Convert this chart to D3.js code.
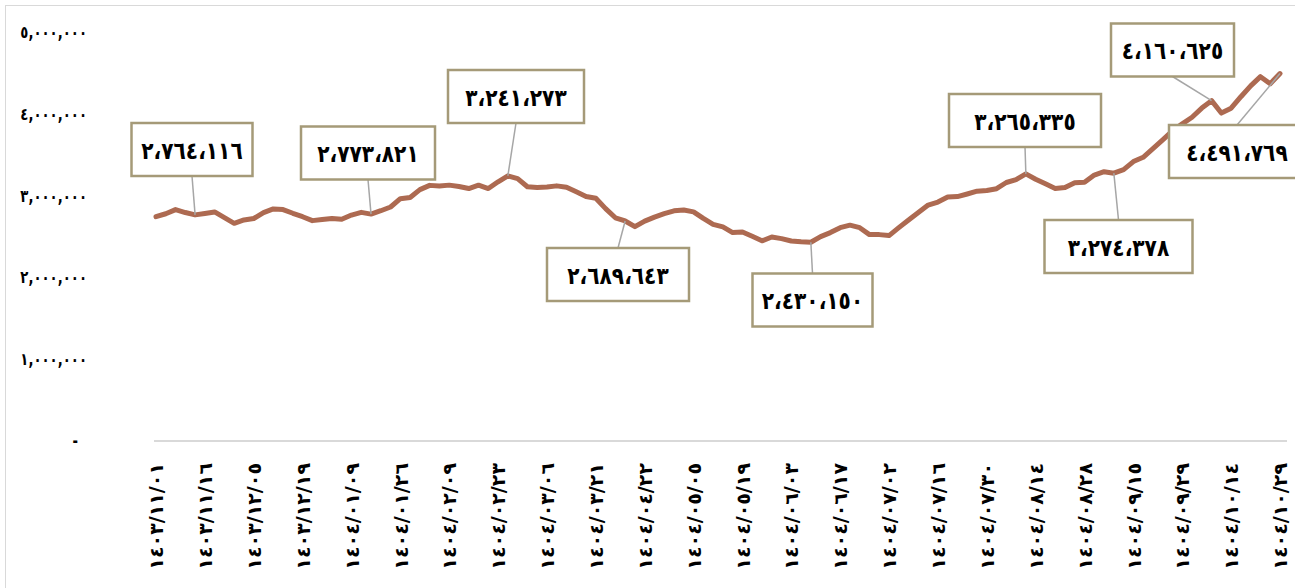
<!DOCTYPE html>
<html>
<head>
<meta charset="utf-8">
<script src="https://cdn.jsdelivr.net/npm/d3@7"></script>
<style>
  html, body { margin: 0; padding: 0; background: #fff; }
  svg { display: block; font-family: "DejaVu Sans", sans-serif; }
</style>
</head>
<body>
<svg id="chart" width="1295" height="588"></svg>
<script>
// tick labels (every 5th point), Persian calendar dates
const tickLabels = [
  "1403/11/01", "1403/11/16", "1403/12/05", "1403/12/19", "1404/01/09", "1404/01/26",
  "1404/02/09", "1404/02/23", "1404/03/06", "1404/03/21", "1404/04/22", "1404/05/05",
  "1404/05/19", "1404/06/03", "1404/06/17", "1404/07/02", "1404/07/16", "1404/07/30",
  "1404/08/14", "1404/08/28", "1404/09/15", "1404/09/29", "1404/10/14", "1404/10/29"
];

// series values
const values = [
  2742000, 2778000, 2829000, 2793000, 2764116, 2781000, 2800000, 2730000, 2661000, 2702000,
  2720000, 2791000, 2837000, 2829000, 2784000, 2742000, 2694000, 2707000, 2721000, 2710000,
  2762000, 2795000, 2773821, 2815000, 2861000, 2962000, 2977000, 3073000, 3125000, 3116000,
  3128000, 3111000, 3086000, 3128000, 3086000, 3169000, 3241273, 3208000, 3108000, 3099000,
  3104000, 3119000, 3103000, 3048000, 2990000, 2968000, 2841000, 2729000, 2689643, 2620000,
  2688000, 2737000, 2779000, 2814000, 2824000, 2801000, 2721000, 2649000, 2617000, 2548000,
  2555000, 2502000, 2447000, 2494000, 2474000, 2445000, 2436000, 2430150, 2499000, 2548000,
  2608000, 2639000, 2608000, 2523000, 2523000, 2511000, 2608000, 2702000, 2793000, 2884000,
  2921000, 2983000, 2988000, 3020000, 3054000, 3062000, 3084000, 3160000, 3196000, 3265335,
  3200000, 3144000, 3087000, 3098000, 3158000, 3163000, 3251000, 3292000, 3274378, 3317000,
  3416000, 3468000, 3573000, 3681000, 3792000, 3877000, 3958000, 4070000, 4160625, 4009000,
  4068000, 4209000, 4341000, 4454000, 4368000, 4491769
];

// indexes of the labelled points
const labelled = [4, 22, 36, 48, 67, 89, 98, 108, 115];

// y axis ticks
const yTicks = [0, 1000000, 2000000, 3000000, 4000000, 5000000];

// box placement for each labelled point: centre x, centre y, width
const boxLayout = [
  [192, 149.5, 121], [368, 153, 134], [516, 96.5, 136],
  [618, 274.5, 142], [812.5, 300, 120], [1025, 120.5, 152],
  [1118.5, 246.5, 148], [1172.5, 50, 123], [1237, 151.5, 136]
];
const boxH = 53;

const arDigits = "٠١٢٣٤٥٦٧٨٩";
const toAr = s => String(s).replace(/[0-9]/g, d => arDigits[+d]);
const fmt = d3.format(",");

const svg = d3.select("#chart");

// outer frame
svg.append("rect")
  .attr("x", 5.5).attr("y", 5.5).attr("width", 1300).attr("height", 600)
  .attr("fill", "none").attr("stroke", "#d9d9d9").attr("stroke-width", 1);

const x = d3.scaleLinear().domain([0, values.length - 1]).range([156, 1280]);
const y = d3.scaleLinear().domain([0, 5000000]).range([441, 32]);

// y axis
const yAxis = svg.append("g")
  .attr("transform", "translate(92,0)")
  .call(d3.axisLeft(y).tickValues(yTicks).tickSize(0).tickPadding(4)
    .tickFormat(d => d === 0 ? "-" : toAr(fmt(d))));
yAxis.select(".domain").remove();
yAxis.selectAll(".tick text")
  .attr("font-family", "DejaVu Sans").attr("font-weight", "bold")
  .attr("font-size", 17).attr("fill", "#000")
  .attr("x", 0)
  .attr("transform", d => `translate(${d === 0 ? -14 : -5},0) scale(0.78,1)`);

// x axis line
svg.append("line")
  .attr("x1", 154).attr("x2", 1287).attr("y1", y(0)).attr("y2", y(0))
  .attr("stroke", "#d9d9d9").attr("stroke-width", 2);

const xAxis = svg.append("g")
  .attr("transform", `translate(0,${y(0)})`)
  .call(d3.axisBottom(x).tickValues(tickLabels.map((_, i) => i * 5)).tickSize(0)
    .tickFormat((d, i) => toAr(tickLabels[i])));
xAxis.select(".domain").remove();
xAxis.selectAll("text")
  .attr("font-family", "DejaVu Sans").attr("font-weight", "bold")
  .attr("font-size", 19).attr("fill", "#000")
  .attr("transform", "rotate(-90)")
  .attr("text-anchor", "end")
  .attr("x", -22).attr("y", 0).attr("dy", "0.35em");

// the line
const line = d3.line()
  .x((d, i) => x(i))
  .y(d => y(d));

svg.append("path")
  .datum(values)
  .attr("fill", "none")
  .attr("stroke", "#ad6a51")
  .attr("stroke-width", 5)
  .attr("stroke-linejoin", "round")
  .attr("stroke-linecap", "round")
  .attr("d", line);

// data labels with leader lines
const labels = svg.append("g");
labelled.forEach((idx, k) => {
  const [cx, cy, w] = boxLayout[k];
  const px = x(idx), py = y(values[idx]);
  const below = py > cy;
  labels.append("line")
    .attr("x1", cx).attr("y1", below ? cy + boxH / 2 : cy - boxH / 2)
    .attr("x2", px).attr("y2", py)
    .attr("stroke", "#a6a6a6").attr("stroke-width", 1.5);
});
labelled.forEach((idx, k) => {
  const [cx, cy, w] = boxLayout[k];
  labels.append("rect")
    .attr("x", cx - w / 2).attr("y", cy - boxH / 2)
    .attr("width", w).attr("height", boxH)
    .attr("fill", "#fff").attr("stroke", "#a59a78").attr("stroke-width", 2.5);
  labels.append("text")
    .attr("transform", `translate(${cx},${cy}) scale(0.84,1)`)
    .attr("dy", "0.38em")
    .attr("text-anchor", "middle")
    .attr("font-family", "DejaVu Sans").attr("font-weight", "bold")
    .attr("font-size", 24).attr("fill", "#000")
    .text(toAr(fmt(values[idx])).replace(/,/g, "،"));
});
</script>
</body>
</html>
